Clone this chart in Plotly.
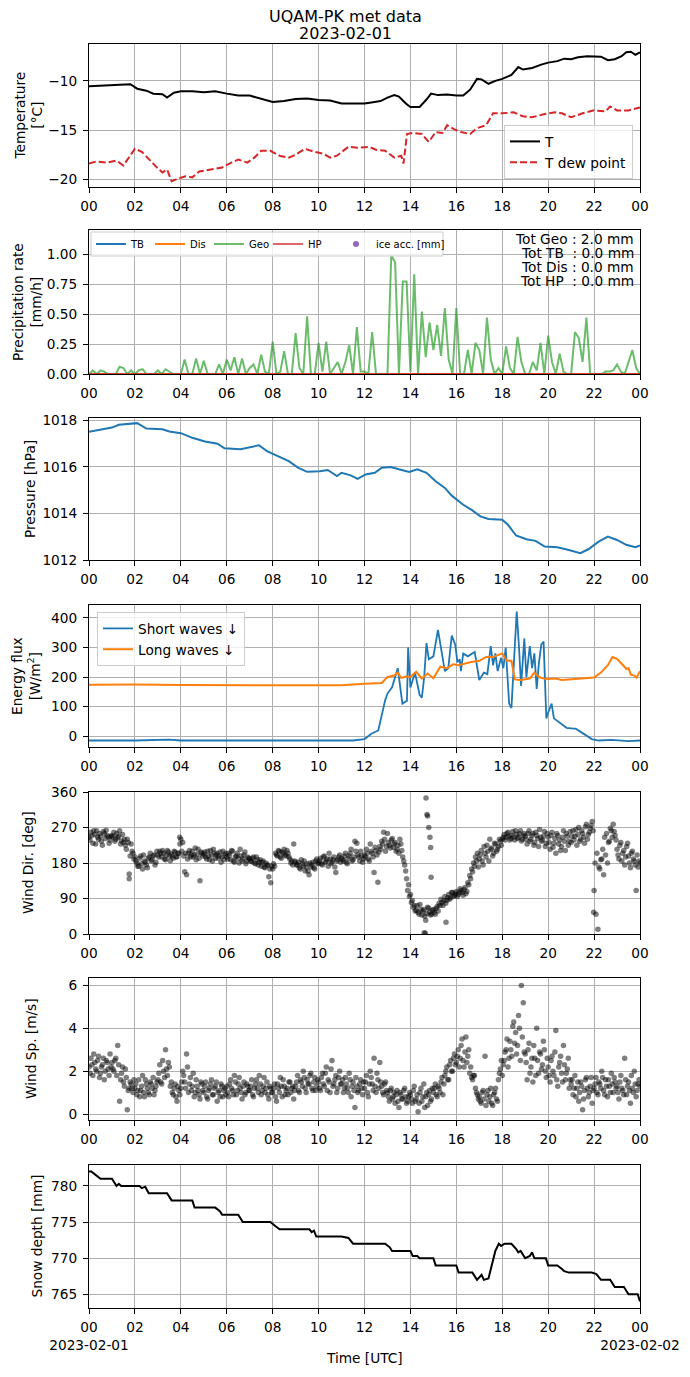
import plotly.graph_objects as go

# TIME AXIS (hours after 2023-02-01 00:00 UTC) -------------------------------------------------------------------------
hour_ticks = [0, 2, 4, 6, 8, 10, 12, 14, 16, 18, 20, 22, 24]
hour_labels = ["00", "02", "04", "06", "08", "10", "12", "14", "16", "18", "20", "22", "00"]
bottom_labels = ["00<br>2023-02-01", "02", "04", "06", "08", "10", "12", "14", "16", "18", "20", "22",
                 "00<br>2023-02-02"]

# TEMPERATURE [°C] -----------------------------------------------------------------------------------------------------
t_hours = [0, 0.5, 1, 1.5, 1.8, 2.1, 2.5, 2.8, 3.2, 3.4, 3.7, 4, 4.5, 5, 5.5, 6, 6.5, 7, 7.5, 8, 8.5, 9, 9.5, 10,
           10.5, 11, 11.5, 12, 12.3, 12.7, 13, 13.3, 13.5, 13.8, 14, 14.4, 14.7, 14.9, 15.2, 15.6, 16, 16.3, 16.6,
           16.9, 17.1, 17.4, 17.7, 18, 18.4, 18.7, 18.9, 19.3, 19.7, 20, 20.4, 20.7, 21, 21.3, 21.7, 22, 22.3,
           22.6, 22.9, 23.2, 23.4, 23.6, 23.8, 24]
t_air = [-10.55, -10.5, -10.5, -10.45, -10.35, -10.8, -11.0, -11.3, -11.35, -11.7, -11.2, -11.05, -11.05, -11.15,
         -11.05, -11.3, -11.5, -11.5, -11.85, -12.15, -12.05, -11.85, -11.8, -11.95, -12.0, -12.3, -12.3, -12.3,
         -12.2, -12.05, -11.7, -11.45, -11.6, -12.3, -12.65, -12.65, -11.9, -11.3, -11.45, -11.4, -11.5, -11.5,
         -10.9, -9.8, -9.85, -10.3, -10.0, -9.8, -9.4, -8.6, -8.85, -8.7, -8.35, -8.15, -8.0, -7.75, -7.8, -7.6,
         -7.5, -7.5, -7.55, -7.9, -7.8, -7.5, -7.1, -7.05, -7.35, -7.1]

td_hours = [0, 0.3, 0.8, 1.2, 1.5, 1.8, 2.0, 2.3, 2.7, 3.0, 3.2, 3.4, 3.6, 3.8, 4.2, 4.5, 4.8, 5.3, 5.8, 6.2, 6.5,
            6.9, 7.2, 7.5, 7.9, 8.3, 8.7, 9.0, 9.4, 9.8, 10.2, 10.5, 10.8, 11.3, 11.7, 12.2, 12.5, 12.9, 13.3, 13.6,
            13.7, 13.85, 14.1, 14.5, 14.8, 15.1, 15.4, 15.6, 15.9, 16.2, 16.6, 16.9, 17.3, 17.6, 18.0, 18.5, 18.9,
            19.3, 19.8, 20.3, 20.6, 21.0, 21.5, 22.0, 22.5, 22.7, 23.0, 23.5, 24]
t_dew = [-18.4, -18.2, -18.3, -18.1, -18.6, -17.5, -16.9, -17.2, -18.2, -18.9, -19.3, -19.0, -20.2, -20.0, -19.7,
         -19.8, -19.2, -19.0, -18.8, -18.3, -18.0, -18.3, -17.8, -17.1, -17.1, -17.6, -17.8, -17.5, -16.9, -17.2,
         -17.4, -17.8, -17.6, -16.7, -16.8, -16.7, -17.0, -17.1, -17.8, -17.6, -18.4, -15.4, -15.3, -15.4, -16.2,
         -15.2, -15.3, -14.5, -14.9, -15.2, -15.4, -14.8, -14.5, -13.3, -13.3, -13.2, -13.6, -13.7, -13.4, -13.2,
         -13.3, -13.7, -13.3, -13.0, -13.1, -12.6, -13.0, -13.0, -12.7]

# PRECIPITATION RATE [mm/h] (10 min steps) -----------------------------------------------------------------------------
geo_rate = [0.0, 0.03, 0.0, 0.03, 0.02, 0.0,
            0.0, 0.0, 0.06, 0.05, 0.0, 0.03,
            0.0, 0.03, 0.04, 0.0, 0.0, 0.0,
            0.03, 0.0, 0.04, 0.02, 0.0, 0.0,
            0.0, 0.12, 0.0, 0.0, 0.13, 0.0,
            0.11, 0.0, 0.0, 0.0, 0.08, 0.0,
            0.12, 0.03, 0.14, 0.0, 0.13, 0.0,
            0.05, 0.08, 0.0, 0.16, 0.02, 0.0,
            0.27, 0.0, 0.02, 0.19, 0.0, 0.0,
            0.34, 0.05, 0.0, 0.48, 0.0, 0.0,
            0.26, 0.02, 0.27, 0.0, 0.05, 0.1,
            0.0, 0.1, 0.24, 0.0, 0.39, 0.02,
            0.02, 0.0, 0.35, 0.0, 0.0, 0.0,
            0.0, 0.99, 0.93, 0.0, 0.77, 0.77,
            0.02, 0.83, 0.0, 0.52, 0.14, 0.43,
            0.2, 0.41, 0.15, 0.55, 0.12, 0.0,
            0.55, 0.0, 0.0, 0.2, 0.0, 0.26,
            0.2, 0.0, 0.47, 0.12, 0.0, 0.05,
            0.0, 0.23, 0.05, 0.0, 0.31, 0.1,
            0.0, 0.0, 0.1, 0.03, 0.26, 0.0,
            0.32, 0.1, 0.0, 0.17, 0.02, 0.0,
            0.0, 0.35, 0.3, 0.1, 0.47, 0.0,
            0.0, 0.0, 0.0, 0.02, 0.02, 0.03,
            0.08, 0.02, 0.0, 0.1, 0.2, 0.05,
            0.0]
geo_hours = [i / 6 for i in range(len(geo_rate))]
zero_hours = [0, 24]
tb_rate = [0.0, 0.0]
dis_rate = [0.0, 0.0]
hp_rate = [0.0, 0.0]
ice_acc = [None]
precip_totals = ["Tot Geo : 2.0 mm", "Tot TB\u00a0\u00a0: 0.0 mm", "Tot Dis : 0.0 mm", "Tot HP\u00a0\u00a0: 0.0 mm"]

# PRESSURE [hPa] -------------------------------------------------------------------------------------------------------
p_hours = [0, 0.5, 1.0, 1.3, 1.95, 2.1, 2.5, 3.2, 3.5, 4.0, 4.5, 5.05, 5.6, 5.9, 6.6, 7.05, 7.4, 7.75, 8.25, 8.7,
           9.1, 9.5, 10.05, 10.4, 10.8, 11.0, 11.4, 11.7, 12.05, 12.45, 12.75, 13.15, 13.5, 13.95, 14.3, 14.7, 15.1,
           15.5, 15.8, 16.3, 16.65, 17.05, 17.4, 18.0, 18.25, 18.6, 19.05, 19.45, 19.85, 20.4, 20.9, 21.4, 21.75,
           22.2, 22.6, 23.0, 23.4, 23.8, 24]
pressure = [1017.5, 1017.58, 1017.68, 1017.8, 1017.86, 1017.87, 1017.64, 1017.61, 1017.51, 1017.44, 1017.24,
            1017.08, 1016.99, 1016.79, 1016.75, 1016.85, 1016.92, 1016.67, 1016.46, 1016.24, 1015.96, 1015.78,
            1015.81, 1015.86, 1015.6, 1015.74, 1015.63, 1015.48, 1015.67, 1015.74, 1015.96, 1015.99, 1015.89,
            1015.78, 1015.89, 1015.74, 1015.38, 1015.09, 1014.76, 1014.37, 1014.16, 1013.87, 1013.76, 1013.73,
            1013.51, 1013.05, 1012.89, 1012.82, 1012.58, 1012.55, 1012.43, 1012.29, 1012.46, 1012.79, 1013.0,
            1012.86, 1012.65, 1012.55, 1012.62]

# ENERGY FLUX [W/m2] ---------------------------------------------------------------------------------------------------
sw_hours = [0, 2, 3.5, 4, 6, 8, 10, 11.5, 12.0, 12.3, 12.6, 12.75, 12.9, 13.0, 13.2, 13.45, 13.65, 13.85, 13.9,
            14.0, 14.2, 14.4, 14.5, 14.6, 14.7, 14.8, 15.0, 15.2, 15.35, 15.5, 15.65, 15.8, 15.95, 16.05, 16.15,
            16.2, 16.3, 16.5, 16.8, 17.0, 17.2, 17.35, 17.5, 17.6, 17.7, 17.8, 17.95, 18.05, 18.15, 18.3, 18.4,
            18.5, 18.63, 18.73, 18.82, 18.96, 19.05, 19.2, 19.3, 19.4, 19.5, 19.6, 19.7, 19.8, 19.92, 20.0, 20.15,
            20.25, 20.5, 20.8, 21.1, 21.2, 21.5, 21.9, 22.2, 22.75, 23.5, 24]
short_waves = [-15, -15, -12, -15, -15, -15, -16, -15, -10, 8, 19, 76, 121, 144, 165, 230, 110, 120, 300, 165,
               215, 140, 130, 200, 315, 260, 270, 360, 290, 220, 230, 340, 310, 250, 260, 220, 280, 270, 285, 190,
               215, 210, 305, 240, 280, 220, 265, 230, 300, 110, 95, 260, 422, 300, 170, 330, 200, 305, 230, 280,
               160, 250, 310, 320, 60, 80, 110, 60, 45, 28, 25, 25, 10, -10, -15, -13, -17, -15]
lw_hours = [0, 2, 4, 6, 8, 10, 11, 12, 12.75, 13, 13.3, 13.45, 13.6, 13.8, 14.0, 14.25, 14.5, 14.75, 15.0, 15.3,
            15.6, 15.85, 16.1, 16.35, 16.6, 17.0, 17.3, 17.6, 17.9, 18.0, 18.2, 18.4, 18.55, 18.8, 19.2, 19.4, 19.6,
            19.8, 20.0, 20.3, 20.6, 21.0, 21.5, 22.0, 22.3, 22.6, 22.8, 23.0, 23.2, 23.4, 23.5, 23.6, 23.75, 23.85,
            24]
long_waves = [174, 175, 173, 172, 172, 172, 172, 177, 180, 200, 205, 215, 197, 202, 200, 218, 195, 212, 196, 235,
              230, 243, 240, 245, 250, 255, 268, 268, 275, 280, 255, 255, 192, 190, 195, 215, 200, 195, 193, 195,
              190, 193, 195, 198, 215, 240, 268, 262, 245, 228, 230, 208, 205, 198, 220]

# WIND DIRECTION [deg] (5 min steps, plus a second pass offset by 2.5 min) ---------------------------------------------
wind_dir = [245, 258, 230, 252, 262, 240, 248, 225, 255, 263, 246, 238,
            250, 258, 240, 244, 262, 236, 232, 225, 240, 152, 228, 205,
            195, 180, 172, 198, 165, 185, 175, 192, 205, 188, 200, 182,
            200, 210, 195, 205, 188, 212, 198, 203, 192, 208, 196, 205,
            240, 232, 158, 150, 205, 195, 210, 200, 188, 215, 135, 205,
            202, 195, 210, 188, 200, 215, 192, 205, 198, 182, 210, 200,
            195, 205, 188, 210, 182, 198, 192, 215, 185, 200, 178, 195,
            190, 183, 195, 178, 188, 182, 172, 185, 168, 175, 145, 130,
            165, 172, 200, 212, 195, 208, 215, 198, 205, 190, 185, 228,
            182, 175, 168, 188, 172, 160, 178, 150, 170, 182, 165, 190,
            180, 192, 175, 198, 185, 172, 190, 182, 195, 156, 188, 200,
            192, 185, 205, 178, 198, 215, 188, 235, 230, 195, 210, 182,
            200, 215, 190, 228, 205, 156, 212, 131, 222, 235, 258, 210,
            255, 225, 238, 220, 232, 215, 205, 228, 195, 175, 140, 125,
            100, 85, 72, 60, 55, 75, 48, 62, 35, 68, 55, 50,
            62, 50, 70, 78, 88, 72, 95, 85, 100, 92, 105, 98,
            108, 100, 115, 105, 112, 102, 130, 148, 165, 180, 195, 205,
            190, 212, 175, 205, 225, 185, 215, 198, 230, 210, 222, 235,
            240, 252, 245, 258, 238, 250, 246, 262, 242, 255, 236, 250,
            248, 228, 262, 240, 255, 232, 250, 222, 245, 238, 260, 230,
            245, 215, 258, 230, 205, 250, 238, 222, 262, 212, 248, 235,
            232, 262, 248, 225, 270, 240, 255, 230, 278, 252, 268, 285,
            110, 50, 12, 165, 190, 150, 200, 180, 235, 262, 278, 250,
            215, 190, 232, 205, 175, 222, 198, 168, 210, 185, 110, 170,
            180]
wind_dir_b = [238, 250, 262, 228, 245, 255, 235, 260, 242, 250, 230, 248,
              246, 235, 255, 248, 228, 252, 240, 215, 232, 198, 210, 190,
              185, 172, 192, 178, 200, 182, 168, 195, 185, 198, 175, 210,
              195, 205, 212, 190, 200, 208, 186, 198, 210, 195, 205, 228,
              210, 198, 205, 190, 212, 200, 195, 218, 202, 192, 208, 198,
              208, 190, 198, 212, 185, 205, 200, 192, 208, 195, 188, 205,
              190, 200, 212, 185, 195, 205, 180, 198, 190, 208, 185, 192,
              185, 192, 180, 195, 175, 188, 182, 170, 180, 175, 165, 172,
              178, 205, 198, 210, 192, 205, 200, 212, 195, 180, 175, 185,
              175, 182, 165, 178, 185, 170, 160, 180, 175, 168, 185, 178,
              185, 178, 195, 182, 190, 205, 178, 188, 170, 185, 195, 182,
              188, 198, 182, 192, 205, 185, 195, 210, 200, 185, 198, 190,
              195, 205, 185, 210, 195, 220, 200, 208, 215, 228, 240, 222,
              232, 218, 242, 228, 210, 225, 240, 212, 185, 160, 110, 95,
              80, 68, 58, 72, 50, 62, 58, 45, 52, 65, 48, 60,
              55, 65, 58, 72, 80, 85, 78, 92, 88, 105, 95, 102,
              95, 105, 110, 98, 118, 108, 125, 140, 158, 172, 185, 170,
              200, 185, 222, 195, 210, 240, 218, 205, 228, 215, 240, 225,
              245, 238, 255, 248, 242, 260, 238, 252, 245, 262, 240, 255,
              240, 255, 235, 250, 225, 258, 242, 265, 235, 248, 222, 255,
              232, 250, 220, 242, 255, 228, 212, 245, 235, 255, 225, 260,
              248, 238, 265, 252, 235, 262, 245, 272, 240, 258, 275, 262,
              180, 205, 170, 188, 215, 245, 255, 232, 268, 245, 260, 238,
              200, 225, 185, 212, 195, 230, 180, 205, 190, 175, 200, 185]
wd_extra_hours = [1.75, 3.95, 14.6, 14.65, 14.68, 14.72, 14.75, 14.8, 14.85, 14.88, 14.9, 15.55, 21.98]
wd_extra = [140, 245, 3, 2, 345, 303, 299, 270, 245, 219, 144, 30, 55]

# WIND SPEED [m/s] (5 min steps, plus a second pass offset by 2.5 min) -------------------------------------------------
wind_speed = [2.2, 2.6, 1.8, 2.4, 2.0, 2.7, 1.9, 2.3, 1.6, 2.5, 2.1, 2.8,
              2.4, 2.0, 2.6, 3.2, 0.6, 1.9, 1.5, 2.1, 0.2, 1.2, 1.4, 1.0,
              1.2, 0.9, 1.6, 1.1, 1.8, 0.8, 1.4, 1.0, 1.5, 1.2, 0.9, 1.3,
              1.6, 2.3, 1.4, 2.0, 3.0, 1.8, 2.2, 1.5, 0.9, 1.4, 0.6, 1.1,
              1.2, 2.0, 1.5, 2.8, 1.0, 1.7, 1.3, 0.8, 1.6, 1.1, 0.7, 1.4,
              1.0, 1.5, 0.7, 1.2, 1.6, 0.9, 1.3, 0.6, 1.1, 1.4, 0.8, 1.2,
              1.3, 0.8, 1.6, 1.1, 1.8, 0.9, 1.4, 1.2, 0.7, 1.5, 1.0, 1.3,
              1.1, 1.6, 0.8, 1.4, 1.2, 1.8, 0.9, 1.3, 1.0, 1.5, 0.7, 1.2,
              1.0, 1.4, 0.6, 1.2, 1.7, 0.8, 1.3, 1.1, 0.9, 1.5, 1.2, 0.7,
              1.3, 1.8, 1.0, 1.5, 2.0, 1.2, 1.6, 1.4, 1.9, 1.1, 1.7, 1.3,
              1.5, 1.1, 1.9, 1.3, 2.2, 1.6, 1.0, 2.5, 1.4, 1.8, 1.2, 2.0,
              1.4, 1.0, 1.7, 1.2, 1.9, 0.8, 1.5, 0.3, 1.3, 1.1, 1.6, 0.9,
              1.2, 1.8, 0.8, 2.0, 1.4, 2.6, 1.0, 1.6, 2.4, 1.3, 0.9, 1.5,
              1.0, 0.6, 1.2, 0.8, 0.5, 1.1, 0.3, 0.9, 0.7, 1.2, 0.5, 0.8,
              0.9, 0.5, 1.3, 0.7, 0.1, 1.0, 0.6, 1.4, 0.8, 0.4, 1.1, 0.7,
              1.0, 1.4, 0.8, 1.2, 1.5, 0.9, 1.8, 2.2, 1.6, 2.5, 2.0, 2.8,
              2.4, 3.0, 2.6, 3.5, 2.2, 3.6, 2.7, 1.9, 1.7, 1.8, 1.2, 0.9,
              0.8, 0.5, 1.1, 2.7, 0.9, 0.6, 1.2, 0.4, 1.0, 0.7, 1.6, 2.1,
              1.8, 2.5, 3.0, 2.2, 3.4, 2.7, 4.3, 3.8, 3.2, 4.0, 6.0, 5.2,
              2.8, 1.6, 3.3, 2.2, 1.5, 2.6, 4.0, 1.9, 2.8, 2.3, 3.0, 1.7,
              2.2, 1.5, 2.7, 1.8, 3.9, 1.3, 2.4, 1.9, 3.2, 1.6, 2.1, 1.2,
              1.4, 0.9, 1.8, 1.2, 0.6, 1.5, 0.2, 1.1, 1.7, 0.8, 1.3, 0.5,
              1.2, 1.7, 0.9, 1.4, 2.0, 1.1, 1.6, 0.8, 1.3, 1.9, 1.0, 1.5,
              1.3, 0.7, 1.8, 1.1, 2.6, 0.9, 1.5, 0.5, 1.2, 2.0, 0.8, 1.4,
              1.3]
wind_speed_b = [1.9, 2.3, 2.8, 2.1, 2.5, 1.7, 2.2, 2.6, 2.0, 2.4, 1.8, 2.2,
                2.1, 2.5, 1.8, 2.3, 1.6, 2.2, 1.3, 1.7, 1.1, 1.5, 1.2, 1.6,
                1.4, 1.1, 0.8, 1.3, 1.0, 1.6, 1.2, 0.9, 1.4, 1.7, 1.1, 1.5,
                1.9, 1.5, 2.5, 1.7, 2.1, 2.4, 1.3, 1.0, 1.2, 0.8, 1.3, 0.9,
                1.5, 1.8, 1.2, 2.2, 1.4, 1.1, 1.9, 1.0, 1.3, 0.9, 1.5, 1.1,
                1.3, 0.8, 1.1, 1.4, 0.9, 1.2, 1.5, 1.0, 0.8, 1.3, 1.1, 0.9,
                1.0, 1.4, 1.2, 0.9, 1.5, 1.1, 1.7, 1.0, 1.3, 0.9, 1.4, 1.1,
                1.3, 0.9, 1.2, 1.6, 1.0, 1.4, 1.1, 1.7, 1.2, 0.9, 1.3, 1.0,
                1.2, 0.8, 1.4, 1.0, 1.3, 1.6, 0.9, 1.2, 1.5, 1.0, 1.3, 1.1,
                1.5, 1.1, 1.6, 1.3, 1.7, 1.0, 1.4, 1.8, 1.2, 1.5, 1.1, 1.6,
                1.2, 1.7, 1.4, 1.9, 1.1, 1.5, 2.1, 1.3, 1.6, 1.0, 1.7, 1.4,
                1.6, 1.2, 1.4, 1.0, 1.6, 1.3, 1.1, 1.7, 1.0, 1.4, 1.2, 1.5,
                1.5, 1.0, 1.4, 1.7, 1.1, 1.3, 1.9, 1.2, 1.5, 1.0, 1.4, 1.1,
                0.8, 1.1, 0.7, 1.0, 0.9, 0.6, 1.0, 0.7, 1.1, 0.8, 0.6, 1.0,
                0.7, 1.1, 0.6, 0.9, 0.5, 1.2, 0.8, 0.3, 1.0, 0.9, 0.6, 1.2,
                1.2, 0.9, 1.3, 1.0, 1.7, 1.4, 2.0, 1.6, 2.3, 2.0, 2.6, 2.3,
                2.7, 2.2, 3.2, 2.5, 2.9, 2.4, 3.0, 2.2, 1.6, 1.8, 1.0, 0.7,
                0.6, 1.0, 0.7, 0.4, 1.1, 0.8, 0.5, 0.9, 1.2, 0.6, 1.9, 2.5,
                2.3, 2.9, 3.5, 2.6, 3.0, 4.1, 3.3, 2.8, 4.6, 2.5, 3.6, 2.9,
                2.4, 3.0, 1.9, 2.6, 3.2, 1.8, 2.5, 2.9, 2.1, 3.4, 2.0, 2.6,
                1.8, 2.5, 2.0, 2.9, 1.6, 2.2, 2.7, 1.5, 2.3, 1.9, 2.6, 1.6,
                1.6, 1.2, 0.8, 1.5, 1.0, 1.3, 0.7, 1.6, 1.2, 1.0, 1.7, 1.1,
                1.4, 1.0, 1.5, 1.2, 1.7, 0.9, 1.3, 1.6, 1.0, 1.4, 1.7, 1.2,
                1.0, 1.5, 1.2, 0.9, 1.6, 1.3, 1.1, 1.8, 1.0, 1.4, 1.1, 1.6]
wind_hours = [i / 12 for i in range(len(wind_dir))]
wind_hours_b = [(i + 0.5) / 12 for i in range(len(wind_dir_b))]

# SNOW DEPTH [mm] ------------------------------------------------------------------------------------------------------
snow_hours = [0, 0.1, 0.3, 0.5, 1.0, 1.1, 1.2, 1.3, 1.4, 2.2, 2.3, 2.45, 2.6, 3.4, 3.6, 4.5, 4.6, 5.5, 5.7, 5.8,
              6.5, 6.7, 7.9, 8.1, 8.3, 9.6, 9.7, 9.8, 9.9, 11.0, 11.2, 11.3, 11.5, 12.9, 13.1, 13.2, 14.0, 14.1,
              14.3, 14.4, 15.0, 15.1, 16.0, 16.1, 16.7, 16.9, 17.1, 17.2, 17.4, 17.5, 17.7, 17.85, 17.95, 18.1,
              18.4, 18.6, 18.7, 18.8, 19.0, 19.2, 19.3, 19.4, 19.9, 20.0, 20.4, 20.6, 20.7, 20.9, 21.9, 22.1, 22.3,
              22.7, 22.9, 23.3, 23.5, 23.9, 24]
snow_depth = [782, 782, 781.5, 781, 781, 780.5, 780, 780.3, 780, 780, 779.7, 779.9, 779, 779, 778, 778, 777, 777,
              776.5, 776, 776, 775, 775, 774.5, 774, 774, 773.6, 773.8, 773, 773, 772.8, 772.8, 772, 772, 771.5, 771,
              771, 770.3, 770.3, 770, 770, 769, 769, 768, 768, 767, 767.7, 767, 767.2, 768.5, 771, 772, 771.7, 772,
              772, 771.3, 770.8, 771, 770, 770.3, 770.8, 770, 770, 769, 769, 768.5, 768.2, 768, 768, 767.8, 767, 767,
              766, 766, 765, 765, 764]

# PLOTTING -------------------------------------------------------------------------------------------------------------
# the page body adds an 8 px margin, so the figure is drawn 8 px smaller and positions are given in window pixels
OFF = 8
W, H = 690 - OFF, 1377 - OFF
X0, X1 = 89, 640
panels = [(44, 187), (230, 374), (418, 560), (605, 747), (792, 934), (978, 1120), (1165, 1308)]
FONT = 'DejaVu Sans'
FS = 13.7


def px(x):
    return (x - OFF) / W


def py(y):
    return 1 - (y - OFF) / H


fig = go.Figure()

# temperature
fig.add_trace(go.Scatter(x=t_hours, y=t_air, mode='lines', name='T', line=dict(color='black', width=2),
                         xaxis='x', yaxis='y', legend='legend'))
fig.add_trace(go.Scatter(x=td_hours, y=t_dew, mode='lines', name='T dew point',
                         line=dict(color='#d62728', width=2, dash='7px,3px'),
                         xaxis='x', yaxis='y', legend='legend'))

# precipitation
fig.add_trace(go.Scatter(x=zero_hours, y=tb_rate, mode='lines', name='TB', line=dict(color='#1f77b4', width=2),
                         xaxis='x2', yaxis='y2', legend='legend2'))
fig.add_trace(go.Scatter(x=zero_hours, y=dis_rate, mode='lines', name='Dis', line=dict(color='#ff7f0e', width=2),
                         xaxis='x2', yaxis='y2', legend='legend2'))
fig.add_trace(go.Scatter(x=geo_hours, y=geo_rate, mode='lines', name='Geo',
                         line=dict(color='rgba(44,160,44,0.7)', width=2),
                         xaxis='x2', yaxis='y2', legend='legend2'))
fig.add_trace(go.Scatter(x=zero_hours, y=hp_rate, mode='lines', name='HP',
                         line=dict(color='rgba(214,39,40,0.7)', width=2),
                         xaxis='x2', yaxis='y2', legend='legend2'))
fig.add_trace(go.Scatter(x=ice_acc, y=ice_acc, mode='markers', name='ice acc. [mm]',
                         marker=dict(color='#9467bd', size=6),
                         xaxis='x2', yaxis='y2', legend='legend4'))

# pressure
fig.add_trace(go.Scatter(x=p_hours, y=pressure, mode='lines', showlegend=False,
                         line=dict(color='#1f77b4', width=2), xaxis='x3', yaxis='y3'))

# energy flux
fig.add_trace(go.Scatter(x=sw_hours, y=short_waves, mode='lines', name='Short waves \u2193',
                         line=dict(color='#1f77b4', width=1.8), xaxis='x4', yaxis='y4', legend='legend3'))
fig.add_trace(go.Scatter(x=lw_hours, y=long_waves, mode='lines', name='Long waves \u2193',
                         line=dict(color='#ff7f0e', width=2), xaxis='x4', yaxis='y4', legend='legend3'))

# wind
wind_marker = dict(color='black', opacity=0.5, size=5.5, line=dict(width=0))
fig.add_trace(go.Scatter(x=wind_hours, y=wind_dir, mode='markers', showlegend=False, marker=wind_marker,
                         xaxis='x5', yaxis='y5'))
fig.add_trace(go.Scatter(x=wind_hours_b, y=wind_dir_b, mode='markers', showlegend=False, marker=wind_marker,
                         xaxis='x5', yaxis='y5'))
fig.add_trace(go.Scatter(x=wd_extra_hours, y=wd_extra, mode='markers', showlegend=False, marker=wind_marker,
                         xaxis='x5', yaxis='y5'))
fig.add_trace(go.Scatter(x=wind_hours, y=wind_speed, mode='markers', showlegend=False, marker=wind_marker,
                         xaxis='x6', yaxis='y6'))
fig.add_trace(go.Scatter(x=wind_hours_b, y=wind_speed_b, mode='markers', showlegend=False, marker=wind_marker,
                         xaxis='x6', yaxis='y6'))

# snow depth
fig.add_trace(go.Scatter(x=snow_hours, y=snow_depth, mode='lines', showlegend=False,
                         line=dict(color='black', width=2), xaxis='x7', yaxis='y7'))

axis_style = dict(showline=True, linecolor='black', linewidth=1, mirror=True,
                  ticks='outside', ticklen=5, tickwidth=1, tickcolor='black',
                  showgrid=True, gridcolor='#b0b0b0', gridwidth=0.8, zeroline=False,
                  automargin=False, tickangle=0,
                  tickfont=dict(family=FONT, size=FS, color='black'))

y_settings = [
    dict(range=[-20.78, -6.26], dtick=5),
    dict(range=[0, 1.2], dtick=0.25, tickformat='.2f'),
    dict(range=[1012, 1018.09], dtick=2),
    dict(range=[-37, 444], dtick=100),
    dict(range=[0, 360], tickvals=[0, 90, 180, 270, 360]),
    dict(range=[-0.28, 6.35], dtick=2),
    dict(range=[763.1, 782.9], dtick=5),
]

layout = {}
for i, (top, bot) in enumerate(panels):
    n = '' if i == 0 else str(i + 1)
    labels = bottom_labels if i == len(panels) - 1 else hour_labels
    layout['xaxis' + n] = dict(domain=[px(X0), px(X1)], anchor='y' + n, range=[0, 24],
                               tickvals=hour_ticks, ticktext=labels, ticklabelstandoff=2, **axis_style)
    layout['yaxis' + n] = dict(domain=[py(bot), py(top)], anchor='x' + n, ticklabelstandoff=3,
                               **axis_style, **y_settings[i])

annotations = []
# title
annotations.append(dict(text='UQAM-PK met data', x=px(345), y=py(16.5), xref='paper', yref='paper',
                        showarrow=False, font=dict(size=16), xanchor='center', yanchor='middle'))
annotations.append(dict(text='2023-02-01', x=px(345), y=py(33.5), xref='paper', yref='paper',
                        showarrow=False, font=dict(size=16), xanchor='center', yanchor='middle'))

# y axis titles
y_titles = ['Temperature<br>[°C]', 'Precipitation rate<br>[mm/h]', 'Pressure [hPa]',
            'Energy flux<br>[W/m<sup>2</sup>]', 'Wind Dir. [deg]', 'Wind Sp. [m/s]', 'Snow depth [mm]']
y_title_x = [28, 27, 30, 26, 28, 31, 36]
for (top, bot), txt, xp in zip(panels, y_titles, y_title_x):
    annotations.append(dict(text=txt, x=px(xp), y=py((top + bot) / 2), xref='paper', yref='paper',
                            showarrow=False, textangle=-90, xanchor='center', yanchor='middle',
                            font=dict(size=FS)))

# precipitation totals
for k, txt in enumerate(precip_totals):
    annotations.append(dict(text=txt, x=px(636), y=py(239 + 14 * k), xref='paper', yref='paper',
                            showarrow=False, xanchor='right', yanchor='middle', font=dict(size=FS)))

# x label
annotations.append(dict(text='Time [UTC]', x=px((X0 + X1) / 2), y=py(1358), xref='paper', yref='paper',
                        showarrow=False, xanchor='center', yanchor='middle', font=dict(size=FS)))

# frame of the precipitation legend (it is split into two plotly legends)
shapes = [dict(type='rect', xref='paper', yref='paper', x0=px(91), x1=px(443), y0=py(256), y1=py(232),
               fillcolor='rgba(255,255,255,0.8)', line=dict(color='#cccccc', width=1), layer='above')]

fig.update_layout(
    width=W, height=H,
    margin=dict(l=0, r=0, t=0, b=0),
    paper_bgcolor='white',
    plot_bgcolor='white',
    font=dict(family=FONT, size=FS, color='black'),
    annotations=annotations,
    shapes=shapes,
    legend=dict(x=px(633), y=py(179), xanchor='right', yanchor='bottom',
                bgcolor='rgba(255,255,255,0.8)', bordercolor='#cccccc', borderwidth=1,
                font=dict(size=FS), tracegroupgap=0),
    legend2=dict(x=px(91), y=py(244), xanchor='left', yanchor='middle', orientation='h',
                 itemwidth=30, entrywidth=14, entrywidthmode='pixels',
                 bgcolor='rgba(0,0,0,0)', borderwidth=0, font=dict(size=10)),
    legend4=dict(x=px(336), y=py(244), xanchor='left', yanchor='middle', orientation='h',
                 itemwidth=30, bgcolor='rgba(0,0,0,0)', borderwidth=0, font=dict(size=10)),
    legend3=dict(x=px(97), y=py(612), xanchor='left', yanchor='top',
                 bgcolor='rgba(255,255,255,0.8)', bordercolor='#cccccc', borderwidth=1,
                 font=dict(size=FS)),
    **layout,
)

fig.write_html("out.html")
